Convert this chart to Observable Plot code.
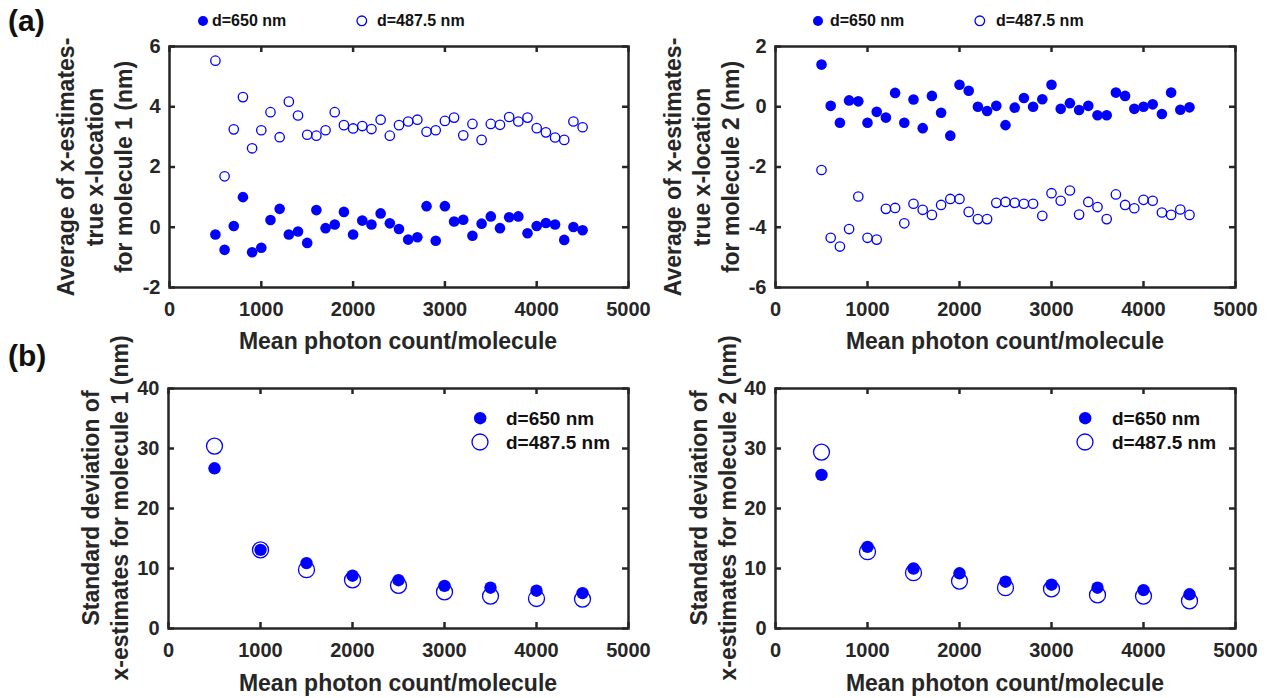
<!DOCTYPE html>
<html>
<head>
<meta charset="utf-8">
<script src="https://cdn.jsdelivr.net/npm/d3@7"></script>
<script src="https://cdn.jsdelivr.net/npm/@observablehq/plot@0.6"></script>
<style>
  html, body { margin: 0; padding: 0; background: #fff; }
  #wrap { position: relative; width: 1270px; height: 698px; overflow: hidden; font-family: "Liberation Sans", Arial, sans-serif; font-weight: bold; color: #262626; }
  .ylab { position: absolute; transform: translate(-50%, -50%) rotate(-90deg); white-space: nowrap; text-align: center; font-size: 23px; line-height: 29px; }
  .xlab { position: absolute; transform: translate(-50%, -50%); white-space: nowrap; font-size: 23px; line-height: 1; }
  .ltxt { position: absolute; transform: translateY(-50%); white-space: nowrap; line-height: 1; color: #111; }
  .plab { position: absolute; font-size: 30px; line-height: 1; color: #111; }
</style>
</head>
<body>
<div id="wrap"></div>
<script>
// ---------- data ----------
const photonTop = [500, 600, 700, 800, 900, 1000, 1100, 1200, 1300, 1400, 1500, 1600, 1700, 1800, 1900, 2000,
  2100, 2200, 2300, 2400, 2500, 2600, 2700, 2800, 2900, 3000, 3100, 3200, 3300, 3400, 3500, 3600, 3700, 3800,
  3900, 4000, 4100, 4200, 4300, 4400, 4500];
const mean1_650 = [-0.24, -0.75, 0.04, 1.0, -0.83, -0.68, 0.24, 0.61, -0.24, -0.14, -0.52, 0.57, -0.03, 0.09, 0.51,
  -0.24, 0.22, 0.09, 0.46, 0.13, -0.06, -0.41, -0.33, 0.70, -0.45, 0.70, 0.19, 0.25, -0.28, 0.12, 0.36, -0.03, 0.33,
  0.36, -0.2, 0.04, 0.14, 0.09, -0.42, 0.01, -0.1];
const mean1_4875 = [5.53, 1.69, 3.25, 4.32, 2.62, 3.22, 3.82, 2.99, 4.17, 3.71, 3.07, 3.04, 3.22, 3.82, 3.39, 3.28,
  3.36, 3.26, 3.57, 3.04, 3.39, 3.51, 3.57, 3.17, 3.22, 3.53, 3.64, 3.05, 3.43, 2.9, 3.43, 3.40, 3.66, 3.51, 3.64,
  3.29, 3.15, 2.98, 2.9, 3.51, 3.32];
const mean2_650 = [1.40, 0.03, -0.53, 0.21, 0.18, -0.53, -0.17, -0.36, 0.46, -0.53, 0.24, -0.71, 0.36, -0.2, -0.96,
  0.73, 0.53, 0.0, -0.14, 0.03, -0.61, -0.03, 0.29, 0.0, 0.25, 0.73, -0.07, 0.12, -0.11, 0.03, -0.28, -0.28, 0.47,
  0.36, -0.07, 0.0, 0.08, -0.24, 0.47, -0.1, -0.02];
const mean2_4875 = [-2.10, -4.35, -4.64, -4.06, -2.98, -4.35, -4.41, -3.39, -3.36, -3.87, -3.22, -3.42, -3.59, -3.26,
  -3.06, -3.06, -3.49, -3.73, -3.73, -3.19, -3.16, -3.19, -3.22, -3.22, -3.62, -2.87, -3.12, -2.78, -3.58, -3.16,
  -3.33, -3.73, -2.91, -3.26, -3.37, -3.09, -3.12, -3.51, -3.59, -3.41, -3.59];

const photonBottom = [500, 1000, 1500, 2000, 2500, 3000, 3500, 4000, 4500];
const sd1_650 = [26.7, 13.1, 10.9, 8.8, 8.05, 7.1, 6.8, 6.3, 5.9];
const sd1_4875 = [30.4, 13.1, 9.8, 8.1, 7.2, 6.1, 5.4, 5.0, 4.9];
const sd2_650 = [25.6, 13.6, 10.0, 9.2, 7.8, 7.3, 6.8, 6.4, 5.7];
const sd2_4875 = [29.4, 12.8, 9.3, 7.9, 6.8, 6.6, 5.6, 5.4, 4.6];

const xTicks = [0, 1000, 2000, 3000, 4000, 5000];
const yTicks1 = [-2, 0, 2, 4, 6];
const yTicks2 = [-6, -4, -2, 0, 2];
const yTicksSD = [0, 10, 20, 30, 40];

const seriesLabels = ["d=650 nm", "d=487.5 nm"];
const xLabel = "Mean photon count/molecule";
const yLabels = [
  ["Average of x-estimates-", "true x-location", "for molecule 1 (nm)"],
  ["Average of x-estimates-", "true x-location", "for molecule 2 (nm)"],
  ["Standard deviation of", "x-estimates for molecule 1 (nm)"],
  ["Standard deviation of", "x-estimates for molecule 2 (nm)"]
];

// ---------- drawing ----------
const BLUE = "#0000ff";
const INK = "#262626";
const wrap = document.getElementById("wrap");

function toRows(xs, ys) { return xs.map((x, i) => ({x, y: ys[i]})); }

function panel(o) {
  const innerH = o.H - o.mt - o.mb, innerW = o.W - o.ml - o.mr;
  const fmt = d => String(d);
  const svg = Plot.plot({
    width: o.W, height: o.H,
    marginLeft: o.ml, marginRight: o.mr, marginTop: o.mt, marginBottom: o.mb,
    x: {domain: [0, 5000]},
    y: {domain: o.yDomain},
    style: {fontFamily: '"Liberation Sans", Arial, sans-serif', fontSize: "20px", fontWeight: "bold", color: INK, background: "transparent", overflow: "visible"},
    marks: [
      Plot.dot(toRows(o.xs, o.open), {x: "x", y: "y", r: o.rO, stroke: BLUE, strokeWidth: 1.3, fill: "none"}),
      Plot.dot(toRows(o.xs, o.filled), {x: "x", y: "y", r: o.rF, fill: BLUE, stroke: "none"}),
      Plot.tickX(xTicks, {x: d => d, stroke: INK, strokeWidth: 2.5, insetTop: innerH - 6}),
      Plot.tickX(xTicks, {x: d => d, stroke: INK, strokeWidth: 2.5, insetBottom: innerH - 6}),
      Plot.tickY(o.yTicks, {y: d => d, stroke: INK, strokeWidth: 2.5, insetLeft: innerW - 6}),
      Plot.tickY(o.yTicks, {y: d => d, stroke: INK, strokeWidth: 2.5, insetRight: innerW - 6}),
      Plot.frame({stroke: INK, strokeWidth: 2.5}),
      Plot.axisX({ticks: xTicks, tickSize: 0, tickPadding: 14, label: null, tickFormat: fmt, fontSize: 20, fontWeight: "bold"}),
      Plot.axisY({ticks: o.yTicks, tickSize: 0, tickPadding: 9, label: null, tickFormat: fmt, fontSize: 20, fontWeight: "bold"})
    ]
  });
  svg.style.position = "absolute";
  svg.style.left = o.left + "px";
  svg.style.top = o.top + "px";
  svg.style.maxWidth = "none";
  wrap.appendChild(svg);
}

panel({left: 0, top: 0, W: 640, H: 345, ml: 169, mr: 12, mt: 46, mb: 58,
  xs: photonTop, filled: mean1_650, open: mean1_4875, yDomain: [-2, 6], yTicks: yTicks1, rF: 5.3, rO: 4.7});
panel({left: 635, top: 0, W: 635, H: 345, ml: 140, mr: 35, mt: 46, mb: 58,
  xs: photonTop, filled: mean2_650, open: mean2_4875, yDomain: [-6, 2], yTicks: yTicks2, rF: 5.3, rO: 4.7});
panel({left: 0, top: 345, W: 640, H: 353, ml: 168, mr: 12, mt: 43, mb: 70,
  xs: photonBottom, filled: sd1_650, open: sd1_4875, yDomain: [0, 40], yTicks: yTicksSD, rF: 6.2, rO: 8.0});
panel({left: 635, top: 345, W: 635, H: 353, ml: 140, mr: 35, mt: 43, mb: 70,
  xs: photonBottom, filled: sd2_650, open: sd2_4875, yDomain: [0, 40], yTicks: yTicksSD, rF: 6.2, rO: 8.0});

// ---------- text ----------
function addDiv(cls, html, x, y) {
  const d = document.createElement("div");
  d.className = cls; d.innerHTML = html;
  d.style.left = x + "px"; d.style.top = y + "px";
  wrap.appendChild(d);
  return d;
}
function legendMark(cx, cy, r, filled) {
  const ns = "http://www.w3.org/2000/svg";
  const s = document.createElementNS(ns, "svg");
  const size = 2 * r + 4;
  s.setAttribute("width", size); s.setAttribute("height", size);
  s.style.position = "absolute";
  s.style.left = (cx - size / 2) + "px"; s.style.top = (cy - size / 2) + "px";
  const c = document.createElementNS(ns, "circle");
  c.setAttribute("cx", size / 2); c.setAttribute("cy", size / 2); c.setAttribute("r", r);
  if (filled) { c.setAttribute("fill", BLUE); }
  else { c.setAttribute("fill", "none"); c.setAttribute("stroke", BLUE); c.setAttribute("stroke-width", 1.3); }
  s.appendChild(c);
  wrap.appendChild(s);
}

// panel letters
addDiv("plab", "(a)", 8, 6);
addDiv("plab", "(b)", 8, 341);

// x labels
addDiv("xlab", xLabel, 398, 341);
addDiv("xlab", xLabel, 1005, 341);
addDiv("xlab", xLabel, 398, 683);
addDiv("xlab", xLabel, 1005, 683);

// y labels
addDiv("ylab", yLabels[0].join("<br>"), 95, 167);
addDiv("ylab", yLabels[1].join("<br>"), 702, 167);
addDiv("ylab", yLabels[2].join("<br>"), 106, 508);
addDiv("ylab", yLabels[3].join("<br>"), 714, 508);

// top legends (above plots)
[[203, 212, 362, 377], [818, 830, 980, 996]].forEach(([c1, t1, c2, t2]) => {
  legendMark(c1, 21, 5, true);
  addDiv("ltxt", seriesLabels[0], t1, 21).style.fontSize = "16px";
  legendMark(c2, 21, 4.8, false);
  addDiv("ltxt", seriesLabels[1], t2, 21).style.fontSize = "16px";
});
// bottom legends (inside plots)
[[480, 506], [1085, 1112]].forEach(([c, t]) => {
  legendMark(c, 418, 6.2, true);
  addDiv("ltxt", seriesLabels[0], t, 418).style.fontSize = "19px";
  legendMark(c, 442, 8, false);
  addDiv("ltxt", seriesLabels[1], t, 442).style.fontSize = "19px";
});
</script>
</body>
</html>
